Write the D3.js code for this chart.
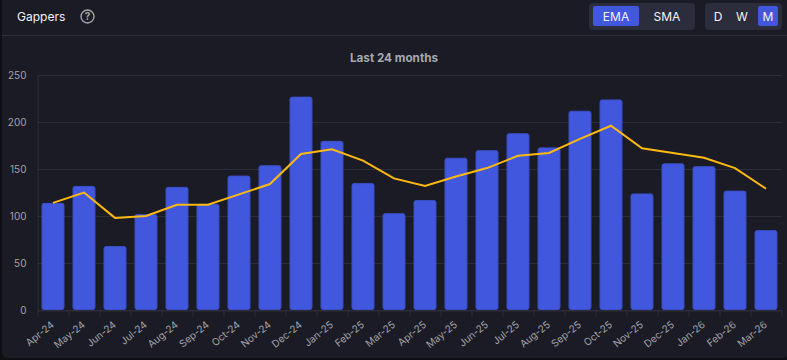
<!DOCTYPE html>
<html>
<head>
<meta charset="utf-8">
<script src="https://d3js.org/d3.v7.min.js"></script>
<style>
html, body { margin: 0; padding: 0; background: #0f1015; overflow: hidden; }
svg { display: block; font-family: Inter, sans-serif; }
</style>
</head>
<body>
<script>
const WIDTH = 787;
const HEIGHT = 360;
const MARGIN = { top: 75, right: 5.5, bottom: 50, left: 37.5 };

const MONTHS = ["Apr-24", "May-24", "Jun-24", "Jul-24", "Aug-24", "Sep-24", "Oct-24", "Nov-24", "Dec-24", "Jan-25", "Feb-25", "Mar-25",
    "Apr-25", "May-25", "Jun-25", "Jul-25", "Aug-25", "Sep-25", "Oct-25", "Nov-25", "Dec-25", "Jan-26", "Feb-26", "Mar-26"];
const GAPPERS = [114, 132, 68, 102, 131, 113, 143, 154, 227, 180, 135, 103, 117, 162, 170, 188, 173, 212, 224, 124, 156, 153, 127, 85];
const EMA = [114, 125, 98, 100, 112, 112, 123, 134, 166, 171, 159, 140, 132, 142, 151, 164, 167, 182, 196, 172, 167, 162, 151, 129];
const Y_TICKS = [0, 50, 100, 150, 200, 250];

const GRID = "#2c2d3a";
const BLUE = "#4158de";
const TICK_TEXT = "#a3a3a8";

const svg = d3.select("body")
    .append("svg")
    .attr("width", WIDTH)
    .attr("height", HEIGHT);

// card background
svg.append("rect")
    .attr("x", 2).attr("y", -10)
    .attr("width", WIDTH).attr("height", HEIGHT + 8)
    .attr("rx", 6)
    .attr("fill", "#1a1b25");

/**
 * Header
 */
svg.append("text")
    .attr("x", 17).attr("y", 21)
    .attr("fill", "#f2f2f4")
    .attr("font-size", 12)
    .text("Gappers");

const help = svg.append("g").attr("transform", "translate(87.5,16.5)");
help.append("circle")
    .attr("r", 6.5)
    .attr("fill", "none")
    .attr("stroke", "#a3a3a8")
    .attr("stroke-width", 1.4);
help.append("text")
    .attr("y", 3.5)
    .attr("text-anchor", "middle")
    .attr("fill", "#a3a3a8")
    .attr("font-size", 10)
    .attr("font-weight", 700)
    .text("?");

svg.append("line")
    .attr("x1", 2).attr("x2", WIDTH)
    .attr("y1", 35.5).attr("y2", 35.5)
    .attr("stroke", GRID);

const drawToggle = (x, w, buttons) => {
    svg.append("rect")
        .attr("x", x).attr("y", 3)
        .attr("width", w).attr("height", 27)
        .attr("rx", 4)
        .attr("fill", "#2b2c3c");
    buttons.forEach(b => {
        if (b.active) {
            svg.append("rect")
                .attr("x", b.x).attr("y", 6)
                .attr("width", b.w).attr("height", 20)
                .attr("rx", 2)
                .attr("fill", BLUE);
        }
        svg.append("text")
            .attr("x", b.x + b.w / 2).attr("y", 21)
            .attr("text-anchor", "middle")
            .attr("fill", "#f2f2f4")
            .attr("font-size", 12)
            .text(b.label);
    });
};

drawToggle(589, 106, [
    { label: "EMA", x: 593, w: 46, active: true },
    { label: "SMA", x: 644, w: 46 }
]);
drawToggle(705, 77, [
    { label: "D", x: 708, w: 20 },
    { label: "W", x: 732, w: 20 },
    { label: "M", x: 758, w: 20, active: true }
]);

svg.append("text")
    .attr("x", 394).attr("y", 62)
    .attr("text-anchor", "middle")
    .attr("fill", "#a9a9ae")
    .attr("font-size", 11.7)
    .attr("font-weight", 700)
    .text("Last 24 months");

/**
 * Chart
 */
const x = d3.scaleBand()
    .domain(MONTHS)
    .range([MARGIN.left, WIDTH - MARGIN.right])
    .paddingInner(0.26)
    .paddingOuter(0.13);

const y = d3.scaleLinear()
    .domain([0, 250])
    .range([HEIGHT - MARGIN.bottom, MARGIN.top]);

// grid
svg.append("g")
    .selectAll("line")
    .data(Y_TICKS)
    .join("line")
    .attr("x1", MARGIN.left)
    .attr("x2", WIDTH - MARGIN.right)
    .attr("y1", d => y(d) + 0.5)
    .attr("y2", d => y(d) + 0.5)
    .attr("stroke", GRID);

const yAxis = svg.append("g")
    .attr("transform", `translate(${MARGIN.left},0)`)
    .call(d3.axisLeft(y).tickValues(Y_TICKS).tickSize(0).tickPadding(11));
yAxis.select(".domain").attr("stroke", GRID);
yAxis.selectAll("text")
    .attr("fill", TICK_TEXT)
    .attr("font-size", 10)
    .attr("font-family", "Inter, sans-serif");

const xAxis = svg.append("g")
    .attr("transform", `translate(0,${HEIGHT - MARGIN.bottom + 0.5})`)
    .call(d3.axisBottom(x).tickSize(0));
xAxis.select(".domain").attr("stroke", GRID);
xAxis.selectAll("line").remove();
xAxis.selectAll("text")
    .attr("fill", TICK_TEXT)
    .attr("font-size", 10)
    .attr("font-family", "Inter, sans-serif")
    .attr("text-anchor", "end")
    .attr("dy", null)
    .attr("transform", `translate(0,13) rotate(-39)`);

// ticks sit on the band edges, not the centers
svg.append("g")
    .selectAll("line")
    .data(d3.range(MONTHS.length + 1))
    .join("line")
    .attr("x1", d => MARGIN.left + d * x.step() + 0.5)
    .attr("x2", d => MARGIN.left + d * x.step() + 0.5)
    .attr("y1", HEIGHT - MARGIN.bottom)
    .attr("y2", HEIGHT - MARGIN.bottom + 7)
    .attr("stroke", GRID);

// bars, border kept inside the bar
svg.append("g")
    .selectAll("rect")
    .data(GAPPERS)
    .join("rect")
    .attr("x", (d, i) => x(MONTHS[i]) + 0.5)
    .attr("y", d => y(d) + 0.5)
    .attr("width", x.bandwidth() - 1)
    .attr("height", d => y(0) - y(d) - 1)
    .attr("rx", 2)
    .attr("fill", BLUE)
    .attr("stroke", "#3b4fc6")
    .attr("stroke-width", 1);

// EMA line
const line = d3.line()
    .x((d, i) => x(MONTHS[i]) + x.bandwidth() / 2)
    .y(d => y(d));

svg.append("path")
    .datum(EMA)
    .attr("fill", "none")
    .attr("stroke", "#ffb90f")
    .attr("stroke-width", 2)
    .attr("d", line);
</script>
</body>
</html>
